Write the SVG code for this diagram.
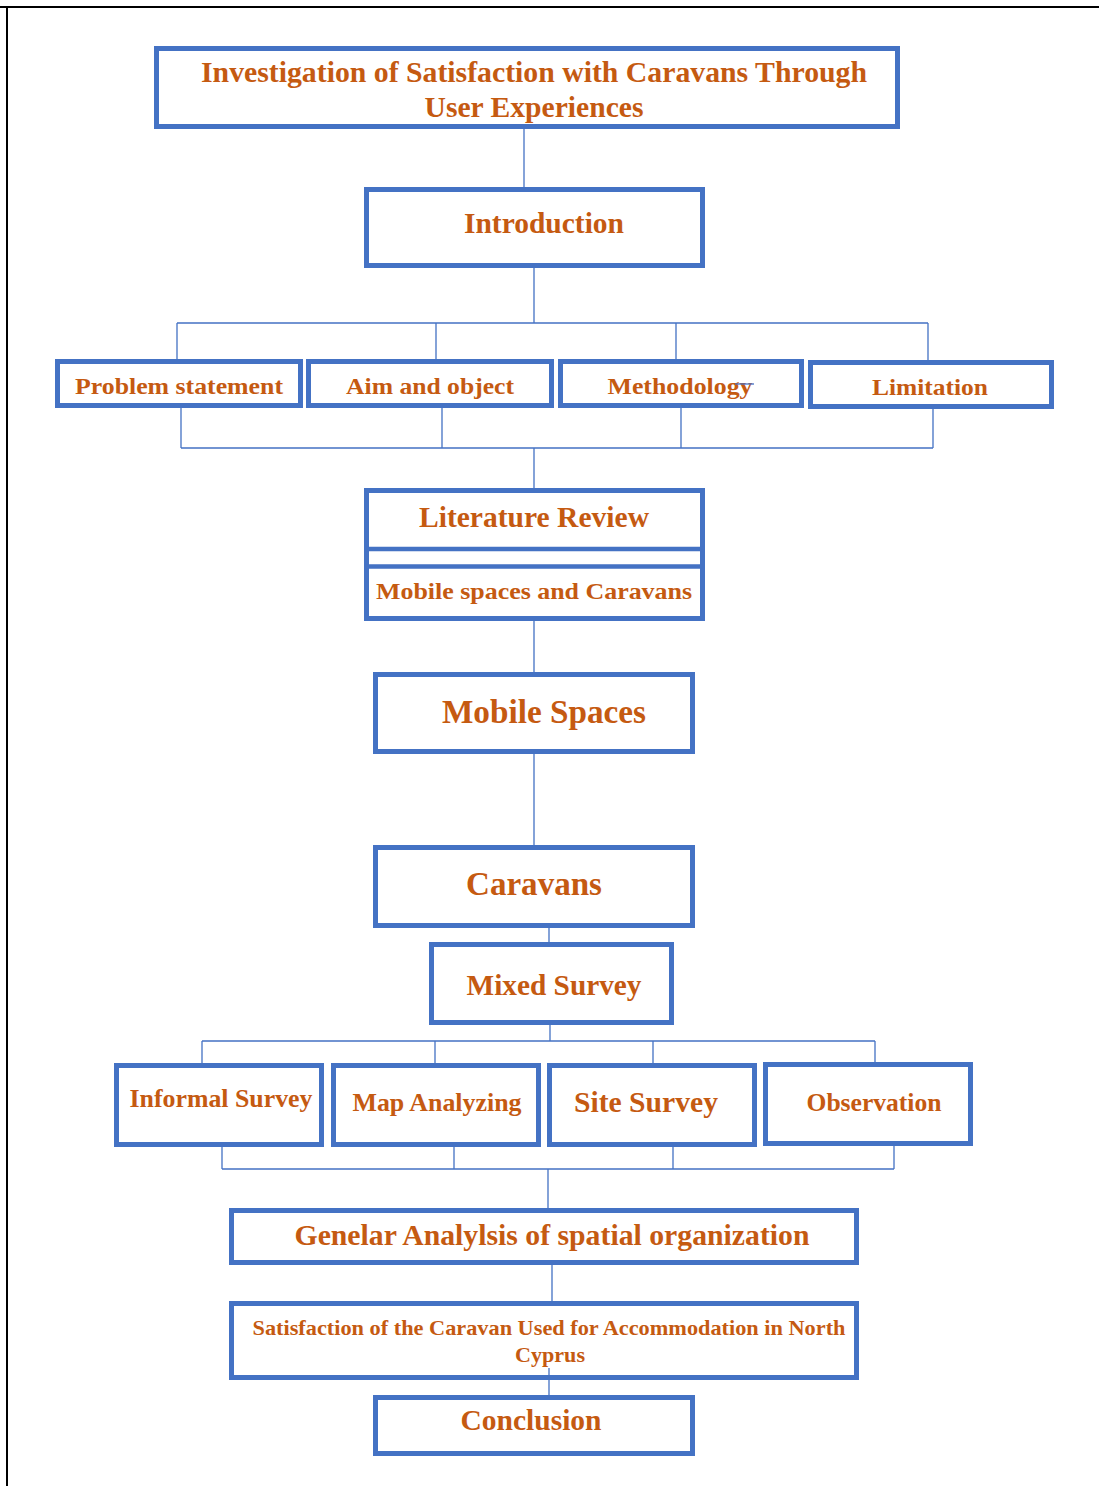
<svg xmlns="http://www.w3.org/2000/svg" width="1099" height="1486" viewBox="0 0 1099 1486">
<style>
.box{fill:#fff;stroke:#4472C4;stroke-width:5}
.t{font-family:"Liberation Serif","Times New Roman",serif;font-weight:bold;fill:#C55A11;text-anchor:middle}
.c{stroke:#4472C4;stroke-width:1.3;fill:none}
</style>
<rect width="1099" height="1486" fill="#fff"/>
<g id="frame"><path d="M0 7H1099M7 7V1486" stroke="#000" stroke-width="2" fill="none"/></g>
<g id="connectors">
<path class="c" d="M524 129V188"/>
<path class="c" d="M534 266V323M177 323H928M177 323V361M436 323V361M676 323V361M928 323V361"/>
<path class="c" d="M181 407V448M442 407V448M681 407V448M933 407V448M181 448H933M534 448V489"/>
<path class="c" d="M534 620V672M534 754V845M549 928V942M550 1025V1041"/>
<path class="c" d="M202 1041H875M202 1041V1063M435 1041V1063M653 1041V1063M875 1041V1062"/>
<path class="c" d="M222 1147V1169M454 1147V1169M673 1147V1169M894 1146V1169M222 1169H894M548 1169V1209"/>
<path class="c" d="M552 1264V1302M549 1379V1396"/>
</g>
<g id="title"><rect class="box" x="156.5" y="48.5" width="741" height="78"/>
<text class="t" x="534" y="82" font-size="29" textLength="666" lengthAdjust="spacingAndGlyphs">Investigation of Satisfaction with Caravans Through</text>
<text class="t" x="534" y="117" font-size="29" textLength="219" lengthAdjust="spacingAndGlyphs">User Experiences</text></g>
<g id="introduction"><rect class="box" x="366.5" y="189.5" width="336" height="76"/>
<text class="t" x="544" y="233" font-size="29" textLength="160" lengthAdjust="spacingAndGlyphs">Introduction</text></g>
<g id="problem"><rect class="box" x="57.5" y="361.5" width="243" height="44"/>
<text class="t" x="179" y="394" font-size="24" textLength="208" lengthAdjust="spacingAndGlyphs">Problem statement</text></g>
<g id="aim"><rect class="box" x="308.5" y="361.5" width="243" height="44"/>
<text class="t" x="430" y="394" font-size="24" textLength="168" lengthAdjust="spacingAndGlyphs">Aim and object</text></g>
<g id="methodology"><rect class="box" x="560.5" y="361.5" width="241" height="44"/>
<text class="t" x="680" y="394" font-size="24" textLength="145" lengthAdjust="spacingAndGlyphs">Methodology</text></g>
<g id="limitation"><rect class="box" x="810.5" y="362.5" width="241" height="44"/>
<text class="t" x="930" y="395" font-size="24" textLength="116" lengthAdjust="spacingAndGlyphs">Limitation</text></g>
<g id="literature"><rect class="box" x="366.5" y="490.5" width="336" height="128"/>
<path d="M366 549H703M366 566.5H703" stroke="#4472C4" stroke-width="4.5"/>
<text class="t" x="534" y="527" font-size="29" textLength="230" lengthAdjust="spacingAndGlyphs">Literature Review</text>
<text class="t" x="534" y="599" font-size="23" textLength="316" lengthAdjust="spacingAndGlyphs">Mobile spaces and Caravans</text></g>
<g id="mobile-spaces"><rect class="box" x="375.5" y="674.5" width="317" height="77"/>
<text class="t" x="544" y="723" font-size="33" textLength="204" lengthAdjust="spacingAndGlyphs">Mobile Spaces</text></g>
<g id="caravans"><rect class="box" x="375.5" y="847.5" width="317" height="78"/>
<text class="t" x="534" y="895" font-size="33" textLength="136" lengthAdjust="spacingAndGlyphs">Caravans</text></g>
<g id="mixed-survey"><rect class="box" x="431.5" y="944.5" width="240" height="78"/>
<text class="t" x="554" y="995" font-size="29" textLength="175" lengthAdjust="spacingAndGlyphs">Mixed Survey</text></g>
<g id="informal"><rect class="box" x="116.5" y="1065.5" width="205" height="79"/>
<text class="t" x="221" y="1107" font-size="25" textLength="183" lengthAdjust="spacingAndGlyphs">Informal Survey</text></g>
<g id="map"><rect class="box" x="333.5" y="1065.5" width="205" height="79"/>
<text class="t" x="437" y="1111" font-size="25" textLength="169" lengthAdjust="spacingAndGlyphs">Map Analyzing</text></g>
<g id="site"><rect class="box" x="549.5" y="1065.5" width="205" height="79"/>
<text class="t" x="646" y="1112" font-size="29" textLength="144" lengthAdjust="spacingAndGlyphs">Site Survey</text></g>
<g id="observation"><rect class="box" x="765.5" y="1064.5" width="205" height="79"/>
<text class="t" x="874" y="1111" font-size="25" textLength="135" lengthAdjust="spacingAndGlyphs">Observation</text></g>
<g id="general"><rect class="box" x="231.5" y="1210.5" width="625" height="52"/>
<text class="t" x="552" y="1245" font-size="30" textLength="515" lengthAdjust="spacingAndGlyphs">Genelar Analylsis of spatial organization</text></g>
<g id="satisfaction"><rect class="box" x="231.5" y="1303.5" width="625" height="74"/>
<text class="t" x="549" y="1335" font-size="21" textLength="593" lengthAdjust="spacingAndGlyphs">Satisfaction of the Caravan Used for Accommodation in North</text>
<text class="t" x="550" y="1362" font-size="21" textLength="70" lengthAdjust="spacingAndGlyphs">Cyprus</text></g>
<g id="conclusion"><rect class="box" x="375.5" y="1397.5" width="317" height="56"/>
<text class="t" x="531" y="1430" font-size="30" textLength="141" lengthAdjust="spacingAndGlyphs">Conclusion</text></g>
<g id="overlay-connectors">
<path class="c" d="M735 384H754" stroke-width="2"/>
<path class="c" d="M549 1368V1380"/>
</g>
</svg>
